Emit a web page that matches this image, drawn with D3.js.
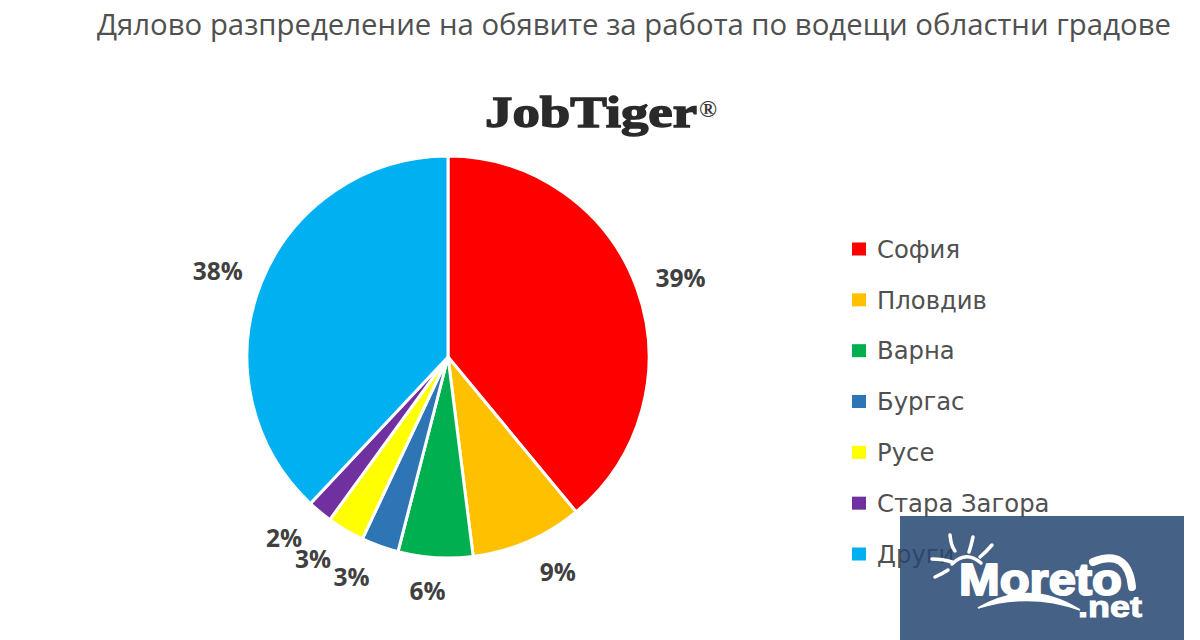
<!DOCTYPE html>
<html><head><meta charset="utf-8">
<script src="https://cdn.jsdelivr.net/npm/d3@7"></script>
<style>html,body{margin:0;padding:0;background:#fff}svg{display:block}</style>
</head><body><svg id="c" width="1200" height="640"></svg>
<script>
const categories = ["София","Пловдив","Варна","Бургас","Русе","Стара Загора","Други"];
const shares = [39,9,6,3,3,2,38];
const colors = ["#FF0000","#FFC000","#00B050","#2E75B6","#FFFF00","#7030A0","#00B0F0"];
const chartTitle = "Дялово разпределение на обявите за работа по водещи областни градове";

const svg = d3.select("#c");
const font = "'Open Sans',sans-serif";
svg.append("text").attr("x",634).attr("y",35).attr("text-anchor","middle")
  .attr("font-family",font).attr("font-size",29.35).attr("fill","#505050").text(chartTitle);
svg.append("text").attr("x",485).attr("y",127).attr("font-family","'Liberation Serif',serif")
  .attr("font-weight",700).attr("font-size",44).attr("fill","#2a2a2a")
  .attr("stroke","#2a2a2a").attr("stroke-width",1.4)
  .attr("textLength",212).attr("lengthAdjust","spacingAndGlyphs").text("JobTiger");
svg.append("text").attr("x",699).attr("y",117).attr("font-family","'Liberation Serif',serif")
  .attr("font-weight",700).attr("font-size",24).attr("fill","#3a3a3a").text("®");

const cx=448, cy=357, R=201;
const g = svg.append("g").attr("transform",`translate(${cx},${cy})`);
const pie = d3.pie().sort(null)(shares);
const arc = d3.arc().innerRadius(0).outerRadius(R);
g.selectAll("path").data(pie).join("path").attr("d",arc)
  .attr("fill",(d,i)=>colors[i]).attr("stroke","#fff").attr("stroke-width",3);
// outside-end labels: the label box rests against the rim, so it sits further out sideways
function labelPos(d){
  const a=(d.startAngle+d.endAngle)/2, s=Math.sin(a), c=Math.cos(a);
  const side=Math.sign(s)*20*Math.min(1,Math.abs(s)/0.2);
  return [226*s+side,-234*c];
}
g.selectAll("text").data(pie).join("text")
  .attr("transform",d=>`translate(${labelPos(d)})`)
  .attr("text-anchor","middle").attr("dy","0.38em")
  .attr("font-family",font).attr("font-weight",700).attr("font-size",24.5).attr("fill","#404040")
  .text(d=>d.value+"%");

const ly = d3.scalePoint().domain(categories).range([249,554]);
const leg = svg.append("g");
leg.selectAll("rect").data(categories).join("rect")
  .attr("x",852).attr("y",d=>ly(d)-6.5).attr("width",14).attr("height",13)
  .attr("fill",(d,i)=>colors[i]);
leg.selectAll("text").data(categories).join("text")
  .attr("x",877).attr("y",d=>ly(d)).attr("dy","0.36em")
  .attr("font-family","'DejaVu Sans',sans-serif").attr("font-size",24.3).attr("fill","#505050")
  .text(d=>d);

// watermark
svg.append("rect").attr("x",900).attr("y",516).attr("width",284).attr("height",124)
  .attr("fill","#254771").attr("fill-opacity",0.85);
const wm = svg.append("g").attr("fill","none").attr("stroke","#fff").attr("stroke-linecap","round");
["M950 535 Q951 546 955 551","M973 537 Q971 546 969 552","M992 545 Q986 552 980 557","M932 559 Q943 559 952 562","M935 577 Q942 574 948 570","M952 564 Q966 550 981 563"]
  .forEach(p=>wm.append("path").attr("d",p).attr("stroke-width",3.5));
wm.append("path").attr("d","M1093 562 Q1128 548 1132 587").attr("stroke-width",8);
wm.append("path").attr("d","M978 608 Q1030 578 1080 610 Q1030 592 978 608 Z").attr("fill","#fff").attr("stroke-width",1.5);
svg.append("text").attr("x",959).attr("y",595).attr("font-family","'Liberation Sans',sans-serif")
  .attr("font-weight",700).attr("font-size",45).attr("fill","#fff").attr("stroke","#fff").attr("stroke-width",2)
  .attr("stroke-linejoin","round").attr("textLength",163).attr("lengthAdjust","spacingAndGlyphs").text("Moreto");
svg.append("text").attr("x",1078).attr("y",617).attr("font-family","'Liberation Sans',sans-serif")
  .attr("font-weight",700).attr("font-size",30).attr("fill","#fff").attr("stroke","#fff").attr("stroke-width",1)
  .attr("textLength",64).attr("lengthAdjust","spacingAndGlyphs").text(".net");
</script></body></html>
